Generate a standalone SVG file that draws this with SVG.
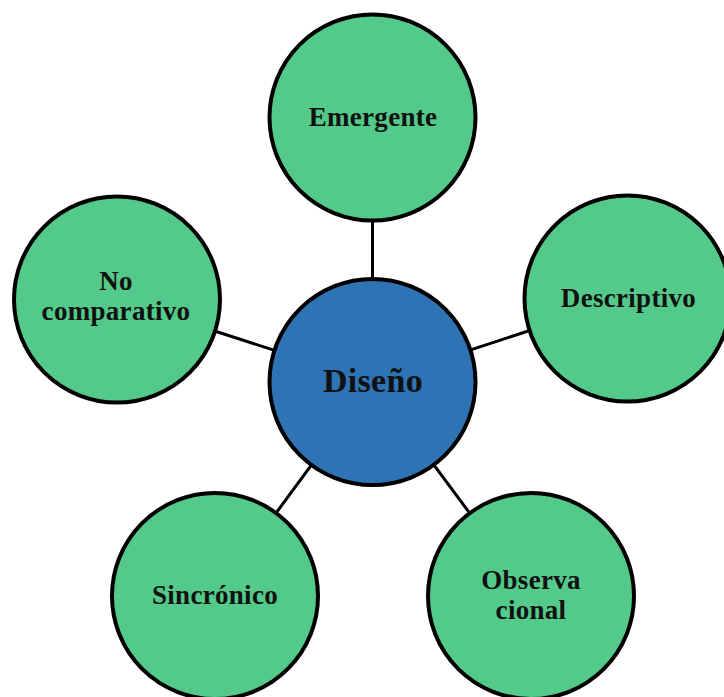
<svg xmlns="http://www.w3.org/2000/svg" width="724" height="697" viewBox="0 0 724 697">
<style>
.edge{stroke:#000;stroke-width:3;fill:none}
.leaf{fill:#53CA89;stroke:#000;stroke-width:4}
.hub{fill:#2E74B5;stroke:#000;stroke-width:4}
.lbl{font-family:"Liberation Serif","Times New Roman",serif;font-weight:bold;font-size:27px;fill:#111;text-anchor:middle;letter-spacing:0.3px}
.big{font-size:34px}
</style>
<rect width="724" height="697" fill="#fff"/>
<g id="connectors">
<line class="edge" x1="372.5" y1="382" x2="372.5" y2="117.5"/>
<line class="edge" x1="372.5" y1="382" x2="627.5" y2="298.5"/>
<line class="edge" x1="372.5" y1="382" x2="117" y2="299.5"/>
<line class="edge" x1="372.5" y1="382" x2="215" y2="596"/>
<line class="edge" x1="372.5" y1="382" x2="531" y2="596"/>
</g>
<g id="emergente">
<circle class="leaf" cx="372.5" cy="117.5" r="103"/>
<text class="lbl" x="373" y="126">Emergente</text>
</g>
<g id="descriptivo">
<circle class="leaf" cx="627.5" cy="298.5" r="103"/>
<text class="lbl" x="628.5" y="307">Descriptivo</text>
</g>
<g id="no-comparativo">
<circle class="leaf" cx="117" cy="299.5" r="103"/>
<text class="lbl" x="116" y="290">No</text>
<text class="lbl" x="116" y="320">comparativo</text>
</g>
<g id="sincronico">
<circle class="leaf" cx="215" cy="596" r="103"/>
<text class="lbl" x="215" y="604">Sincrónico</text>
</g>
<g id="observacional">
<circle class="leaf" cx="531" cy="596" r="103"/>
<text class="lbl" x="531" y="588.5">Observa</text>
<text class="lbl" x="531" y="618.5">cional</text>
</g>
<g id="diseno">
<circle class="hub" cx="372.5" cy="382" r="103"/>
<text class="lbl big" x="373" y="392">Diseño</text>
</g>
</svg>
